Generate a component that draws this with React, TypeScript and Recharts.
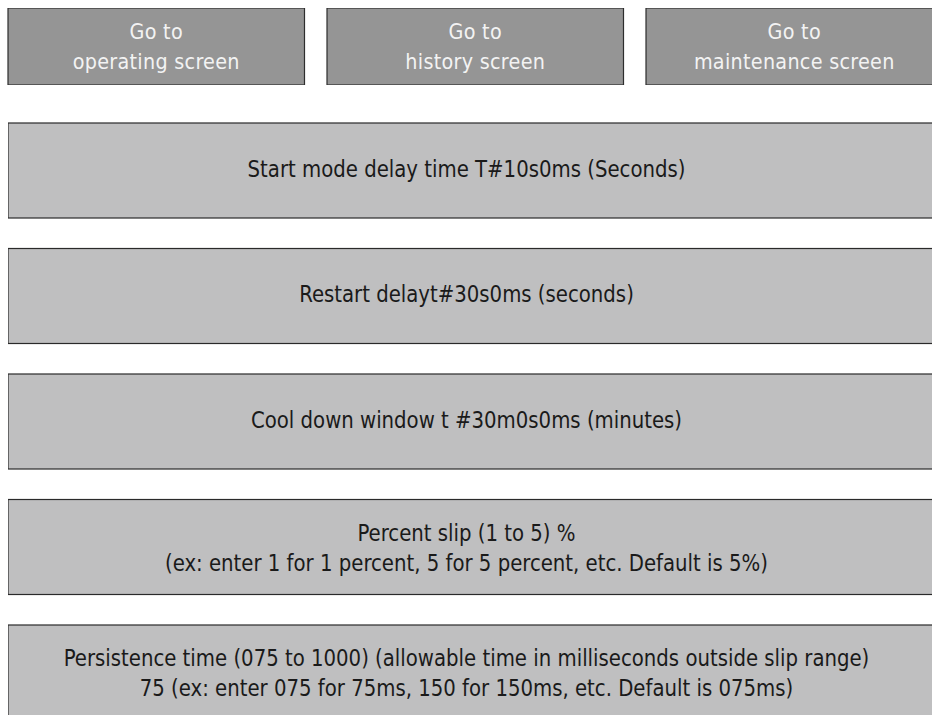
import React from "react";
import { BarChart, Bar, XAxis, YAxis } from "recharts";

// Navigation buttons (categories) and their two-line captions
const buttonKeys = ["operating", "history", "maintenance"];
const buttonTop = ["Go to", "Go to", "Go to"];
const buttonBottom = ["operating screen", "history screen", "maintenance screen"];
const buttonValues = [1, 1, 1];

// Parameter rows (categories) and their caption lines
const rowKeys = ["start", "restart", "cool", "slip", "persist"];
const rowLine1 = [
  "Start mode delay time T#10s0ms (Seconds)",
  "Restart delayt#30s0ms (seconds)",
  "Cool down window t #30m0s0ms (minutes)",
  "Percent slip (1 to 5) %",
  "Persistence time (075 to 1000) (allowable time in milliseconds outside slip range)",
];
const rowLine2 = [
  "",
  "",
  "",
  "(ex: enter 1 for 1 percent, 5 for 5 percent, etc. Default is 5%)",
  "75 (ex: enter 075 for 75ms, 150 for 150ms, etc. Default is 075ms)",
];
const rowValues = [1, 1, 1, 1, 1];

const FONT = "'Liberation Sans Narrow', 'DejaVu Sans Condensed', 'Roboto', sans-serif";

const buttonData = buttonKeys.map((k, i) => ({
  name: k,
  value: buttonValues[i],
  l1: buttonTop[i],
  l2: buttonBottom[i],
}));

const rowData = rowKeys.map((k, i) => ({
  name: k,
  value: rowValues[i],
  l1: rowLine1[i],
  l2: rowLine2[i],
}));

const ButtonShape = (props: any) => {
  const { x, y, width, height, payload } = props;
  const cx = x + width / 2;
  const cy = y + height / 2;
  return (
    <g>
      <rect x={x} y={y} width={width} height={height} fill="#959595" stroke="#2e2e2e" strokeWidth={1.2} />
      <g transform={`translate(${cx},0) scale(0.97,1)`}>
        <text x={0} y={cy - 7.5} textAnchor="middle" fill="#f3f3f3" fontFamily={FONT} fontSize={22} letterSpacing={0.3}>
          {payload.l1}
        </text>
        <text x={0} y={cy + 22.5} textAnchor="middle" fill="#f3f3f3" fontFamily={FONT} fontSize={22} letterSpacing={0.3}>
          {payload.l2}
        </text>
      </g>
    </g>
  );
};

const ROW_BLEED = 24;

const RowShape = (props: any) => {
  const { x, y, width, height, payload } = props;
  const cx = x + (width - ROW_BLEED) / 2;
  const cy = y + height / 2;
  const two = payload.l2 !== "";
  return (
    <g>
      <rect x={x} y={y} width={width} height={height} fill="#bfbfc0" stroke="#2a2a2a" strokeWidth={1.2} />
      <g transform={`translate(${cx},0) scale(0.953,1)`}>
        {two ? (
          <>
            <text x={0} y={cy - 6} textAnchor="middle" fill="#1a1a1a" fontFamily={FONT} fontSize={23}>
              {payload.l1}
            </text>
            <text x={0} y={cy + 24} textAnchor="middle" fill="#1a1a1a" fontFamily={FONT} fontSize={23}>
              {payload.l2}
            </text>
          </>
        ) : (
          <text x={0} y={cy + 6.5} textAnchor="middle" fill="#1a1a1a" fontFamily={FONT} fontSize={23}>
            {payload.l1}
          </text>
        )}
      </g>
    </g>
  );
};

export default function App() {
  return (
    <div
      style={{
        position: "absolute",
        left: 0,
        top: 0,
        width: 932,
        height: 715,
        overflow: "hidden",
        background: "#ffffff",
      }}
    >
      <div style={{ position: "absolute", left: -3.25, top: 8 }}>
        <BarChart width={957} height={77} data={buttonData} margin={{ top: 0, right: 0, bottom: 0, left: 0 }} barSize={296.5}>
          <XAxis dataKey="name" hide />
          <YAxis type="number" domain={[0, 1]} hide />
          <Bar dataKey="value" isAnimationActive={false} shape={ButtonShape} />
        </BarChart>
      </div>
      <div style={{ position: "absolute", left: 8, top: 107.75 }}>
        <BarChart
          width={917 + ROW_BLEED}
          height={627.5}
          data={rowData}
          layout="vertical"
          margin={{ top: 0, right: 0, bottom: 0, left: 0 }}
          barSize={95}
        >
          <XAxis type="number" domain={[0, 1]} hide />
          <YAxis type="category" dataKey="name" hide />
          <Bar dataKey="value" isAnimationActive={false} shape={RowShape} />
        </BarChart>
      </div>
    </div>
  );
}
